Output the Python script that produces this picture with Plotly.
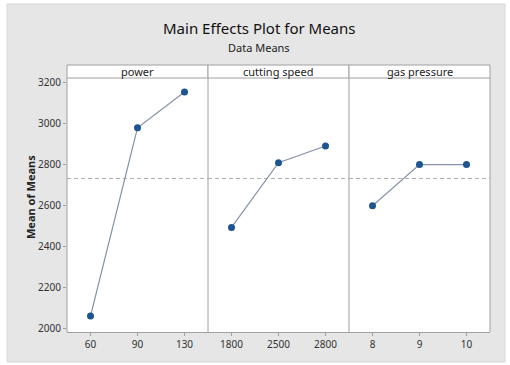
import plotly.graph_objects as go
from plotly.subplots import make_subplots

# Factor levels and the mean response at each level
factors = ["power", "cutting speed", "gas pressure"]
power_levels = ["60", "90", "130"]
power_means = [2060, 2980, 3155]
speed_levels = ["1800", "2500", "2800"]
speed_means = [2493, 2809, 2891]
pressure_levels = ["8", "9", "10"]
pressure_means = [2599, 2800, 2800]
grand_mean = 2732
y_ticks = [2000, 2200, 2400, 2600, 2800, 3000, 3200]

panels = [
    (power_levels, power_means),
    (speed_levels, speed_means),
    (pressure_levels, pressure_means),
]

W, H = 510, 365
ML, MR, MT, MB = 67, 20, 65, 33
plot_w = W - ML - MR
plot_h = H - MT - MB
header_px = 13
data_top = 1 - header_px / plot_h


def px_x(px):
    return (px - ML) / plot_w


def px_y(py):
    return (MT + plot_h - py) / plot_h


fig = make_subplots(rows=1, cols=3, shared_yaxes=True, horizontal_spacing=0)

BORDER = "#a0a0a0"
FONT = "Noto Sans"

for i, (levels, means) in enumerate(panels, start=1):
    fig.add_trace(
        go.Scatter(
            x=levels,
            y=means,
            mode="lines+markers",
            line=dict(color="#8393a8", width=1.2),
            marker=dict(color="#1d5590", size=7),
            showlegend=False,
            hoverinfo="x+y",
        ),
        row=1,
        col=i,
    )
    fig.update_xaxes(
        type="category",
        range=[-0.5, 2.5],
        domain=[(i - 1) / 3, i / 3],
        showline=True,
        mirror=False,
        linecolor=BORDER,
        linewidth=1,
        ticks="outside",
        ticklen=3,
        tickcolor=BORDER,
        showgrid=False,
        zeroline=False,
        tickfont=dict(family=FONT, size=10, color="#333333"),
        row=1,
        col=i,
    )
    fig.update_yaxes(
        range=[1982, 3223],
        domain=[0, data_top],
        showline=False,
        showgrid=False,
        zeroline=False,
        row=1,
        col=i,
    )

fig.update_yaxes(
    tickvals=y_ticks,
    ticks="outside",
    ticklen=3,
    tickcolor=BORDER,
    tickfont=dict(family=FONT, size=10, color="#333333"),
    row=1,
    col=1,
)
fig.update_yaxes(showticklabels=False, ticks="", row=1, col=2)
fig.update_yaxes(showticklabels=False, ticks="", row=1, col=3)

shapes = [
    # outer grey frame
    dict(
        type="rect",
        xref="paper",
        yref="paper",
        x0=px_x(7),
        x1=px_x(505),
        y0=px_y(362),
        y1=px_y(4),
        fillcolor="#e6e6e6",
        line=dict(color="#d8d8d8", width=1),
        layer="below",
    ),
    # white panel area including strip headers
    dict(
        type="rect",
        xref="paper",
        yref="paper",
        x0=0,
        x1=1,
        y0=0,
        y1=1,
        fillcolor="white",
        line=dict(width=0),
        layer="below",
    ),
]

# panel separators and outer vertical borders
for k in range(4):
    shapes.append(
        dict(
            type="line",
            xref="paper",
            yref="paper",
            x0=k / 3,
            x1=k / 3,
            y0=0,
            y1=data_top,
            line=dict(color=BORDER, width=1),
            layer="above",
        )
    )

annotations = []
for i, name in enumerate(factors):
    shapes.append(
        dict(
            type="rect",
            xref="paper",
            yref="paper",
            x0=i / 3,
            x1=(i + 1) / 3,
            y0=data_top,
            y1=1,
            fillcolor="white",
            line=dict(color=BORDER, width=1),
            layer="above",
        )
    )
    annotations.append(
        dict(
            text=name,
            xref="paper",
            yref="paper",
            x=(i + 0.5) / 3,
            y=(1 + data_top) / 2,
            showarrow=False,
            font=dict(family=FONT, size=11, color="#222222"),
            xanchor="center",
            yanchor="middle",
        )
    )

# grand mean reference line across every panel
for i in range(1, 4):
    xr = "x" if i == 1 else f"x{i}"
    yr = "y" if i == 1 else f"y{i}"
    shapes.append(
        dict(
            type="line",
            xref=f"{xr} domain",
            yref=yr,
            x0=0,
            x1=1,
            y0=grand_mean,
            y1=grand_mean,
            line=dict(color="#b0b0b0", width=1.2, dash="4px,3px"),
            layer="below",
        )
    )

annotations.append(
    dict(
        text="<b>Mean of Means</b>",
        xref="paper",
        yref="paper",
        x=px_x(30),
        y=px_y(197),
        textangle=-90,
        showarrow=False,
        font=dict(family=FONT, size=11, color="#222222"),
        xanchor="center",
        yanchor="middle",
    )
)
annotations.append(
    dict(
        text="Main Effects Plot for Means",
        xref="paper",
        yref="paper",
        x=px_x(259),
        y=px_y(28),
        showarrow=False,
        font=dict(family=FONT, size=15, color="#111111"),
        xanchor="center",
        yanchor="middle",
    )
)
annotations.append(
    dict(
        text="Data Means",
        xref="paper",
        yref="paper",
        x=px_x(259),
        y=px_y(47),
        showarrow=False,
        font=dict(family=FONT, size=11, color="#222222"),
        xanchor="center",
        yanchor="middle",
    )
)

fig.update_layout(
    width=W,
    height=H,
    margin=dict(l=ML, r=MR, t=MT, b=MB),
    paper_bgcolor="white",
    plot_bgcolor="rgba(0,0,0,0)",
    shapes=shapes,
    annotations=annotations,
    showlegend=False,
)

fig.write_html("out.html")
